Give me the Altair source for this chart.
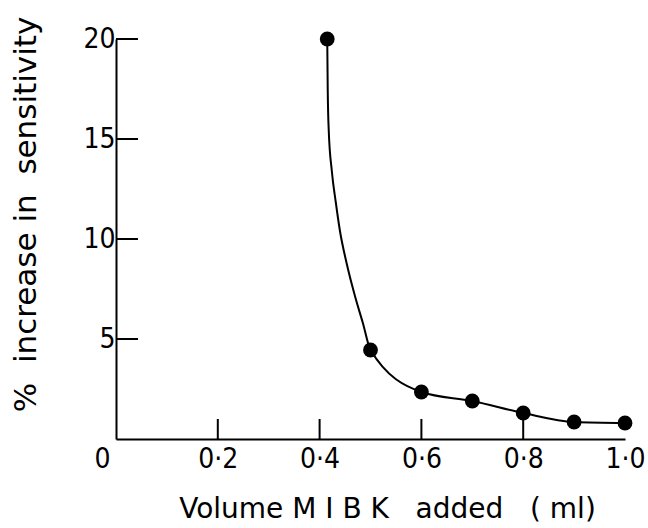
import altair as alt
import pandas as pd

# Measured points: volume of MIBK added (ml) vs % increase in sensitivity
volume_ml = [0.415, 0.5, 0.6, 0.7, 0.8, 0.9, 1.0]
pct_increase = [20.0, 4.45, 2.35, 1.9, 1.3, 0.85, 0.8]

# Hand-drawn smooth curve through the points (traced positions)
curve_x = [0.415, 0.416, 0.418, 0.424, 0.432, 0.440, 0.453, 0.470, 0.485,
           0.5, 0.6, 0.7, 0.8, 0.9, 1.0]
curve_y = [20.0, 17.4, 15.4, 13.4, 11.8, 10.4, 8.8, 7.1, 5.8,
           4.45, 2.35, 1.9, 1.3, 0.85, 0.8]

# Axis ticks (drawn inward)
x_ticks = [0.2, 0.4, 0.6, 0.8]
y_ticks = [5, 10, 15, 20]
x_tick_values = [0, 0.2, 0.4, 0.6, 0.8, 1.0]

LABEL_FONT = "DejaVu Sans Condensed, DejaVu Sans"
TITLE_FONT = "DejaVu Sans"
NB = "\u00a0"
W, H = 509, 400

pts = pd.DataFrame({"volume": volume_ml, "pct": pct_increase})
crv = pd.DataFrame({"volume": curve_x, "pct": curve_y})
xt = pd.DataFrame({"v": x_ticks})
yt = pd.DataFrame({"v": y_ticks})

x_scale = alt.Scale(domain=[0, 1.0], nice=False, zero=True)
y_scale = alt.Scale(domain=[0, 20], nice=False, zero=True)

x_axis = alt.Axis(
    values=x_tick_values,
    labelExpr="replace(format(datum.value, datum.value == 0 ? 'd' : '.1f'), '.', '·')",
    ticks=False,
    grid=False,
    domainColor="black",
    domainWidth=2,
    labelColor="black",
    labelFont=LABEL_FONT,
    labelFontSize=28,
    labelPadding=6,
    labelFlush=False,
    labelOffset={"condition": {"test": "datum.value == 0", "value": -14}, "value": 0},
    title=f"Volume M I B K{NB}{NB} added{NB}{NB} ( ml)",
    titleFont=TITLE_FONT,
    titleFontSize=28,
    titleFontWeight="normal",
    titleColor="black",
    titleX=271,
    titleY=56,
    titleAlign="center",
    titleBaseline="top",
)

y_axis = alt.Axis(
    values=y_ticks,
    ticks=False,
    grid=False,
    domainColor="black",
    domainWidth=2,
    labelColor="black",
    labelFont=LABEL_FONT,
    labelFontSize=28,
    labelPadding=1,
    labelFlush=False,
    title=f"%{NB} increase in{NB} sensitivity",
    titleFont=TITLE_FONT,
    titleFontSize=31,
    titleFontWeight="normal",
    titleColor="black",
    titleAngle=270,
    titleX=-90,
    titleY=175,
    titleAlign="center",
    titleBaseline="middle",
)

curve = alt.Chart(crv).mark_line(interpolate="monotone", color="black", strokeWidth=2).encode(
    x=alt.X("volume:Q", scale=x_scale, axis=x_axis),
    y=alt.Y("pct:Q", scale=y_scale, axis=y_axis),
)

points = alt.Chart(pts).mark_circle(color="black", opacity=1, size=220).encode(
    x=alt.X("volume:Q", scale=x_scale),
    y=alt.Y("pct:Q", scale=y_scale),
)

x_tick_marks = alt.Chart(xt).mark_rule(color="black", strokeWidth=2).encode(
    x=alt.X("v:Q", scale=x_scale),
    y=alt.value(H),
    y2=alt.value(H - 20),
)

y_tick_marks = alt.Chart(yt).mark_rule(color="black", strokeWidth=2).encode(
    y=alt.Y("v:Q", scale=y_scale),
    x=alt.value(0),
    x2=alt.value(22),
)

chart = (
    alt.layer(curve, x_tick_marks, y_tick_marks, points)
    .properties(
        width=W,
        height=H,
        autosize="none",
        padding={"left": 116, "top": 39, "right": 23, "bottom": 89},
        background="white",
    )
    .configure_view(stroke=None)
)

chart.save("out.html", embed_options={"renderer": "svg", "actions": False})
